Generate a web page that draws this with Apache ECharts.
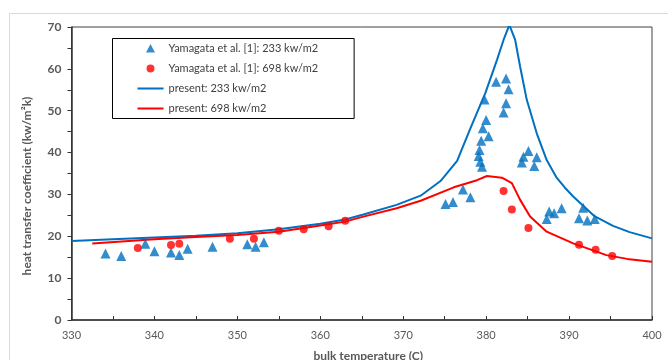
<!DOCTYPE html>
<html>
<head>
<meta charset="utf-8">
<script src="https://cdn.jsdelivr.net/npm/echarts@6/dist/echarts.min.js"></script>
<style>html,body{margin:0;padding:0;background:#fff}#c{width:668px;height:360px}</style>
</head>
<body>
<div id="c"></div>
<script>
// Experimental data: Yamagata et al. [1], 233 kw/m2 (triangles)
const exp233T = [334.1,336.0,338.9,340.0,342.0,343.0,344.0,347.0,351.2,352.2,353.2,
  375.1,376.0,377.2,378.1,
  379.5,379.3,379.1,379.2,379.4,380.3,379.6,380.0,379.8,381.2,382.4,382.7,382.4,382.1,
  384.3,384.5,385.1,385.8,386.1,
  387.3,387.6,388.2,389.1,391.2,391.7,392.2,393.1];
const exp233H = [15.9,15.3,18.2,16.4,16.1,15.5,17.0,17.5,18.1,17.5,18.6,
  27.7,28.2,31.2,29.3,
  36.6,37.8,39.2,40.6,42.8,43.9,45.8,47.8,52.7,56.9,57.7,55.1,51.8,49.6,
  37.6,39.0,40.4,36.8,38.9,
  24.1,25.9,25.5,26.7,24.3,26.8,23.8,24.1];
// Experimental data: Yamagata et al. [1], 698 kw/m2 (circles)
const exp698T = [338.0,342.0,343.0,349.1,352.0,355.0,358.0,361.0,363.0,382.1,383.1,385.1,391.2,393.2,395.2];
const exp698H = [17.2,17.9,18.2,19.4,19.4,21.3,21.7,22.4,23.7,30.8,26.4,22.0,18.0,16.8,15.3];
// Present model: 233 kw/m2
const pre233T = [330,335,340,345,350,355,360,363,365.2,369.2,372.1,374.5,376.5,378.1,379.9,381.3,382.1,382.8,383.5,384.1,384.9,386.1,387.3,388.5,389.5,390.5,391.7,393,395.3,397.3,400];
const pre233H = [18.9,19.3,19.7,20.1,20.7,21.7,23.0,24.0,25.2,27.5,29.7,33.2,38.0,45.8,54.2,62.1,66.9,70.5,66.9,60.5,52.6,44.6,38.2,34.0,31.6,29.5,27.3,24.9,22.5,21.0,19.5];
// Present model: 698 kw/m2
const pre698T = [332.5,340,345,350,355,360,363,365.2,369.2,372.1,376.1,378.9,380.1,381.9,383.1,384.1,385.3,387.3,390.5,394.5,397,400];
const pre698H = [18.3,19.3,19.8,20.3,21.1,22.6,23.5,24.7,26.7,28.5,31.7,33.4,34.4,34.0,32.7,28.7,24.7,21.1,18.3,15.5,14.6,13.9];

const names = ['Yamagata et al. [1]: 233 kw/m2','Yamagata et al. [1]: 698 kw/m2','present: 233 kw/m2','present: 698 kw/m2'];
const zip = (a,b) => a.map((v,i)=>[v,b[i]]);
const BLUE = '#0070C0', RED = '#FF0000';
const FONT = 'Lato, "Open Sans", sans-serif';

// legend icons (bounding box 26x10 kept via zero-size anchor sub-paths)
const ANCH = 'M0,0L0,0Z M26,10L26,10Z ';
const ICON_TRI = 'path://' + ANCH + 'M13,0.5L17.5,9L8.5,9Z';
const ICON_CIR = 'path://' + ANCH + 'M9,5A4,4 0 1,0 17,5A4,4 0 1,0 9,5Z';
const ICON_LINE = 'path://' + ANCH + 'M0,4.1L26,4.1L26,5.9L0,5.9Z';

const chart = echarts.init(document.getElementById('c'), null, {renderer:'canvas'});
chart.setOption({
  animation:false,
  backgroundColor:'#fff',
  graphic:[{type:'rect',shape:{x:9.5,y:13.5,width:700,height:400},style:{fill:'none',stroke:'#D9D9D9',lineWidth:1},silent:true,z:-1}],
  grid:{left:71.5,right:16,top:27,bottom:40,outerBoundsMode:'none',containLabel:false,show:true,borderColor:'#404040',borderWidth:1,backgroundColor:'transparent'},
  legend:{
    orient:'vertical',left:112.5,top:38.5,
    padding:[3,36,3,25],
    itemWidth:26,itemHeight:10,itemGap:6,
    borderColor:'#000',borderWidth:1,
    data:[
      {name:names[0],icon:ICON_TRI},
      {name:names[1],icon:ICON_CIR},
      {name:names[2],icon:ICON_LINE},
      {name:names[3],icon:ICON_LINE}
    ],
    textStyle:{fontFamily:FONT,fontSize:11,color:'#404040',lineHeight:14}
  },
  xAxis:{
    type:'value',min:330,max:400,interval:10,
    name:'bulk temperature (C)',nameLocation:'middle',nameGap:30,
    nameTextStyle:{fontFamily:FONT,fontSize:12,fontWeight:'bold',color:'#595959',padding:[0,0,0,13]},
    axisLine:{show:true,lineStyle:{color:'#333',width:1.5}},
    axisTick:{show:true,inside:true,length:4,lineStyle:{color:'#333'}},
    minorTick:{show:true,splitNumber:2,length:4,lineStyle:{color:'#333'}},
    splitLine:{show:false},
    axisLabel:{fontFamily:FONT,fontSize:11,color:'#595959',margin:10}
  },
  yAxis:{
    type:'value',min:0,max:70,interval:10,
    name:'heat transfer coefficient (kw/m²k)',nameLocation:'middle',nameGap:38,
    nameTextStyle:{fontFamily:FONT,fontSize:12,fontWeight:'bold',color:'#595959',padding:[0,25,0,0]},
    axisLine:{show:true,lineStyle:{color:'#333',width:1.5}},
    axisTick:{show:true,inside:false,length:4,lineStyle:{color:'#333'}},
    minorTick:{show:true,splitNumber:2,length:4,lineStyle:{color:'#333'}},
    splitLine:{show:false},
    axisLabel:{fontFamily:FONT,fontSize:12,fontWeight:'bold',color:'#595959',margin:10}
  },
  series:[
    {name:names[0],type:'scatter',symbol:'triangle',symbolSize:10,itemStyle:{color:BLUE},data:zip(exp233T,exp233H),z:5},
    {name:names[1],type:'scatter',symbol:'circle',symbolSize:8,itemStyle:{color:RED},data:zip(exp698T,exp698H),z:5},
    {name:names[2],type:'line',symbol:'none',clip:true,lineStyle:{color:BLUE,width:2},itemStyle:{color:BLUE},data:zip(pre233T,pre233H),z:3},
    {name:names[3],type:'line',symbol:'none',clip:true,lineStyle:{color:RED,width:2},itemStyle:{color:RED},data:zip(pre698T,pre698H),z:3}
  ]
});
</script>
</body>
</html>
